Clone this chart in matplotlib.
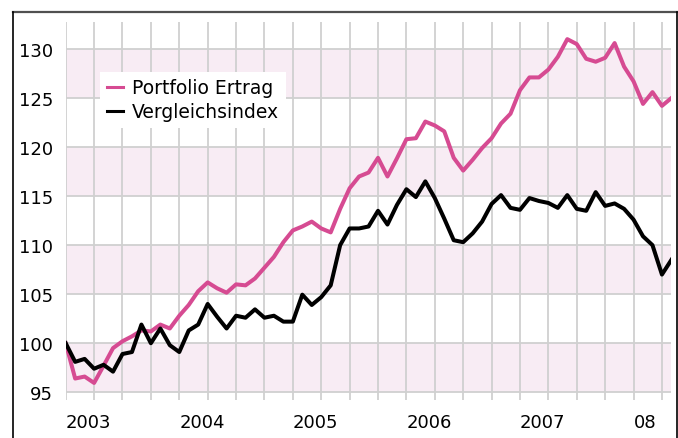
import matplotlib.pyplot as plt
from matplotlib.lines import Line2D

# --------------------------------- Data ------------------------------------- #
# monthly values, Jan 2003 .. May 2008
portfolio = [100.0, 96.4, 96.6, 95.95, 97.7, 99.5, 100.2, 100.7, 101.3, 101.2, 101.9, 101.5,
             102.8, 103.9, 105.3, 106.2, 105.6, 105.15, 106.0, 105.9, 106.6, 107.7, 108.8, 110.3,
             111.5, 111.9, 112.4, 111.7, 111.3, 113.7, 115.8, 117.0, 117.4, 118.9, 117.0, 118.85,
             120.8, 120.9, 122.6, 122.2, 121.6, 118.9, 117.6, 118.7, 119.9, 120.9, 122.4, 123.4,
             125.8, 127.1, 127.1, 127.9, 129.2, 131.0, 130.5, 129.0, 128.7, 129.1, 130.6, 128.2,
             126.7, 124.4, 125.6, 124.2, 125.0]
benchmark = [100.0, 98.1, 98.4, 97.4, 97.8, 97.1, 98.9, 99.1, 101.9, 100.0, 101.5, 99.8,
             99.1, 101.3, 101.9, 104.0, 102.7, 101.5, 102.8, 102.6, 103.45, 102.6, 102.8, 102.2,
             102.2, 104.95, 103.9, 104.7, 105.9, 110.0, 111.7, 111.7, 111.9, 113.5, 112.1, 114.1,
             115.7, 114.9, 116.5, 114.8, 112.7, 110.5, 110.3, 111.2, 112.4, 114.2, 115.1, 113.8,
             113.6, 114.8, 114.5, 114.3, 113.8, 115.1, 113.7, 113.5, 115.4, 114.0, 114.25, 113.7,
             112.6, 110.9, 110.0, 107.0, 108.5]
months = list(range(len(portfolio)))
year_labels = ["2003", "2004", "2005", "2006", "2007", "08"]
series_names = ["Portfolio Ertrag", "Vergleichsindex"]

# --------------------------------- Style ------------------------------------ #
PINK = "#d64b92"
BAND = "#f8ecf4"
GRID = "#d0d0d0"
W, H = 678, 439

plt.rcParams["font.family"] = ["DejaVu Sans"]

fig = plt.figure(figsize=(W / 100, H / 100), dpi=100)
ax = fig.add_axes([65.7 / W, 1 - 401 / H, (671.4 - 65.7) / W, 378 / H])

# pink bands every other 5 units
for lo in (95, 105, 115, 125):
    ax.axhspan(lo, lo + 5, color=BAND, zorder=0, lw=0)

ax.plot(months, portfolio, color=PINK, lw=2.9, label=series_names[0], zorder=3)
ax.plot(months, benchmark, color="black", lw=2.9, label=series_names[1], zorder=3)

ax.set_xlim(0, len(months) - 1)
ax.set_ylim(94.21, 132.75)
ax.set_yticks(range(95, 131, 5))
ax.set_xticks(range(0, len(months), 3))
ax.set_xticklabels([])
ax.set_axisbelow(True)
ax.grid(True, color=GRID, lw=1.3)
ax.tick_params(length=0, labelsize=13, pad=9)
for s in ax.spines.values():
    s.set_visible(False)

# year labels, left aligned at january
for k, lab in enumerate(year_labels):
    ax.text(12 * k, -0.058, lab, transform=ax.get_xaxis_transform(),
            ha="left", va="center", fontsize=13)

leg = ax.legend(loc="upper left", bbox_to_anchor=(0.0566, 0.868), frameon=True,
                fancybox=False, edgecolor="none", facecolor="white", framealpha=1,
                fontsize=13.5, handlelength=0.9, handletextpad=0.45,
                borderpad=0.35, labelspacing=0.25, borderaxespad=0)
for ln in leg.get_lines():
    ln.set_linewidth(2.2)

# outer frame
fig.add_artist(Line2D([13 / W, 677 / W], [1 - 12.7 / H, 1 - 12.7 / H],
                      transform=fig.transFigure, color="#505050", lw=1.6))
fig.add_artist(Line2D([13.3 / W, 13.3 / W], [0, 1 - 12.7 / H],
                      transform=fig.transFigure, color="black", lw=1.2))
fig.add_artist(Line2D([676.7 / W, 676.7 / W], [0, 1 - 12.7 / H],
                      transform=fig.transFigure, color="black", lw=1.2))

fig.savefig("out.png", dpi=100)
